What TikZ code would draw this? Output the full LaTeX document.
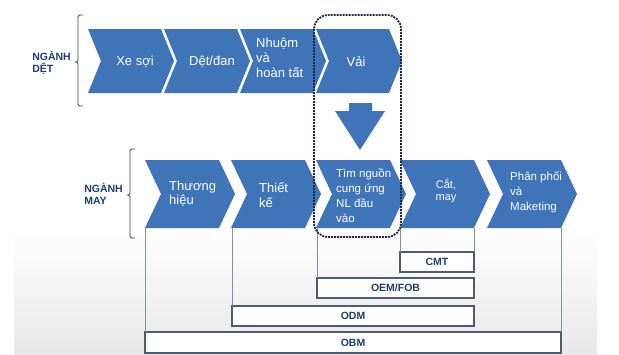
\documentclass[tikz,border=0pt]{standalone}
\usepackage{fontspec}
\setmainfont{Liberation Sans}
\definecolor{chevblue}{HTML}{4074B9}
\definecolor{labblue}{HTML}{1F3D6B}
\definecolor{boxedge}{HTML}{4C5C74}
\definecolor{linkgray}{HTML}{8290A4}
\definecolor{dashnavy}{HTML}{1E2B48}
\begin{document}
\begin{tikzpicture}[x=1pt,y=-1pt,
  chev/.style={fill=chevblue},
  ctext/.style={text=white,inner sep=0pt,align=left,font=\fontsize{13}{15}\selectfont},
  ctextsm/.style={text=white,inner sep=0pt,align=left,font=\fontsize{11.5}{15}\selectfont},
  grp/.style={text=labblue,inner sep=0pt,align=left,font=\bfseries\fontsize{10.5}{12.5}\selectfont},
  brace/.style={draw=black!75,line width=0.9pt,rounded corners=1.5pt},
  modelbox/.style={draw=boxedge,line width=1.2pt,fill=white,inner sep=0pt,outer sep=0pt,
    minimum height=20pt,text=labblue,font=\bfseries\fontsize{10.5}{12}\selectfont},
  link/.style={draw=linkgray,line width=0.8pt},
  focus/.style={draw=dashnavy,line width=1.8pt,dash pattern=on 2pt off 1pt,rounded corners=14pt}]
\useasboundingbox (0,0) rectangle (619,354);
\fill[white] (0,0) rectangle (619,354);
\shade[top color=white,bottom color=black!9] (14,228) rectangle (597,354);

% brackets
\draw[brace] (83,15) -- (78,15) -- (78,62) -- (73,62) -- (78,62) -- (78,106) -- (83,106);
\draw[brace] (135,149) -- (130,149) -- (130,195) -- (125,195) -- (130,195) -- (130,238) -- (135,238);
\node[grp,anchor=east] (det) at (71,63) {NGÀNH\\DỆT};
\node[grp,anchor=east] (may) at (123,194) {NGÀNH\\MAY};

% top row chevrons
\fill[chev] (88,29) -- (161,29) -- (174,61) -- (161,93) -- (88,93) -- (101,61) -- cycle;
\fill[chev] (164,29) -- (237,29) -- (250,61) -- (237,93) -- (164,93) -- (177,61) -- cycle;
\fill[chev] (240,29) -- (313,29) -- (326,61) -- (313,93) -- (240,93) -- (253,61) -- cycle;
\fill[chev] (316,29) -- (389,29) -- (402,61) -- (389,93) -- (316,93) -- (329,61) -- cycle;
\node[ctext] (xesoi) at (135,62) {Xe sợi};
\node[ctext] (detdan) at (212,62) {Dệt/đan};
\node[ctext,anchor=west] (nhuom) at (256,58) {Nhuộm\\và\\hoàn tất};
\node[ctext] (vai) at (356,62) {Vải};

% down arrow
\fill[chev] (349,103) -- (372,103) -- (372,111) -- (385,111) -- (360,150) -- (335,111) -- (349,111) -- cycle;

% bottom row chevrons
\fill[chev] (145,160) -- (219,160) -- (235,194) -- (219,228) -- (145,228) -- (161,194) -- cycle;
\fill[chev] (231,160) -- (305,160) -- (321,194) -- (305,228) -- (231,228) -- (247,194) -- cycle;
\fill[chev] (316,160) -- (390,160) -- (406,194) -- (390,228) -- (316,228) -- (332,194) -- cycle;
\fill[chev] (400,160) -- (474,160) -- (490,194) -- (474,228) -- (400,228) -- (416,194) -- cycle;
\fill[chev] (487,160) -- (561,160) -- (577,194) -- (561,228) -- (487,228) -- (503,194) -- cycle;
\node[ctext,anchor=west,font=\fontsize{13}{13.5}\selectfont] (thuong) at (169,194) {Thương\\hiệu};
\node[ctext,anchor=west] (thiet) at (259,195) {Thiết\\kế};
\node[ctextsm,anchor=west] (tim) at (336,196) {Tìm nguồn\\cung ứng\\NL đầu\\vào};
\node[ctextsm,align=center,font=\fontsize{11}{12.5}\selectfont] (cat) at (446,191) {Cắt,\\may};
\node[ctextsm,anchor=west] (phan) at (510,192) {Phân phối\\và\\Maketing};

% corner coordinates
\coordinate (c1bl) at (145,228);
\coordinate (c2bl) at (232,228);
\coordinate (c3bl) at (317,228);
\coordinate (c4bl) at (400,228);
\coordinate (c4br) at (474,228);
\coordinate (c5br) at (561,228);

% model boxes
\node[modelbox,minimum width=74pt] (cmt) at (437,262) {CMT};
\node[modelbox,minimum width=157pt] (oem) at (395.5,288) {OEM/FOB};
\node[modelbox,minimum width=242pt] (odm) at (353,316) {ODM};
\node[modelbox,minimum width=416pt,minimum height=21pt] (obm) at (353,342.5) {OBM};

% links
\draw[link] (c1bl) -- (obm.north -| c1bl);
\draw[link] (c5br) -- (obm.north -| c5br);
\draw[link] (c2bl) -- (odm.north -| c2bl);
\draw[link] (c3bl) -- (oem.north -| c3bl);
\draw[link] (c4bl) -- (cmt.north -| c4bl);
\draw[link] (c4br) -- (cmt.north -| c4br);

% focus frame
\draw[focus] (314,15) rectangle (401,237);
\end{tikzpicture}
\end{document}
